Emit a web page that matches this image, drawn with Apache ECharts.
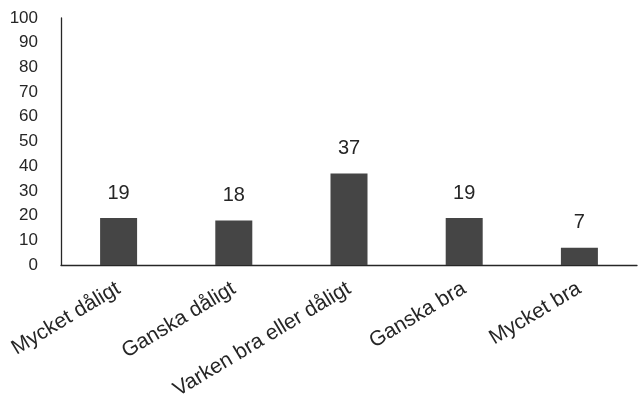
<!DOCTYPE html>
<html>
<head>
<meta charset="utf-8">
<script src="https://cdn.jsdelivr.net/npm/echarts@6/dist/echarts.min.js"></script>
<style>
html,body{margin:0;padding:0;background:#fff;}
#chart{width:638px;height:407px;}
</style>
</head>
<body>
<div id="chart"></div>
<script>
var categories = ["Mycket dåligt", "Ganska dåligt", "Varken bra eller dåligt", "Ganska bra", "Mycket bra"];
var values = [19, 18, 37, 19, 7];
var yMin = 0, yMax = 100, yStep = 10;

var chart = echarts.init(document.getElementById('chart'), null, {renderer: 'canvas'});
chart.setOption({
  animation: false,
  backgroundColor: '#ffffff',
  grid: {left: 61, right: 1, top: 18, bottom: 142, containLabel: false},
  xAxis: {
    type: 'category',
    data: categories,
    axisLine: {show: true, lineStyle: {color: '#262626', width: 1.3}},
    axisTick: {show: false},
    axisLabel: {
      interval: 0,
      rotate: 31,
      margin: 22,
      fontFamily: 'Liberation Sans, Arial, sans-serif',
      fontSize: 21,
      color: '#262626'
    }
  },
  yAxis: {
    type: 'value',
    min: yMin, max: yMax, interval: yStep,
    splitLine: {show: false},
    axisLine: {show: true, lineStyle: {color: '#262626', width: 1.3}},
    axisTick: {show: false},
    axisLabel: {
      margin: 23,
      fontFamily: 'Liberation Sans, Arial, sans-serif',
      fontSize: 17,
      color: '#262626'
    }
  },
  series: [{
    type: 'bar',
    data: values,
    barWidth: 37,
    itemStyle: {color: '#454545'},
    label: {
      show: true,
      position: 'top',
      distance: 15,
      fontFamily: 'Liberation Sans, Arial, sans-serif',
      fontSize: 20,
      color: '#262626'
    }
  }]
});
</script>
</body>
</html>
